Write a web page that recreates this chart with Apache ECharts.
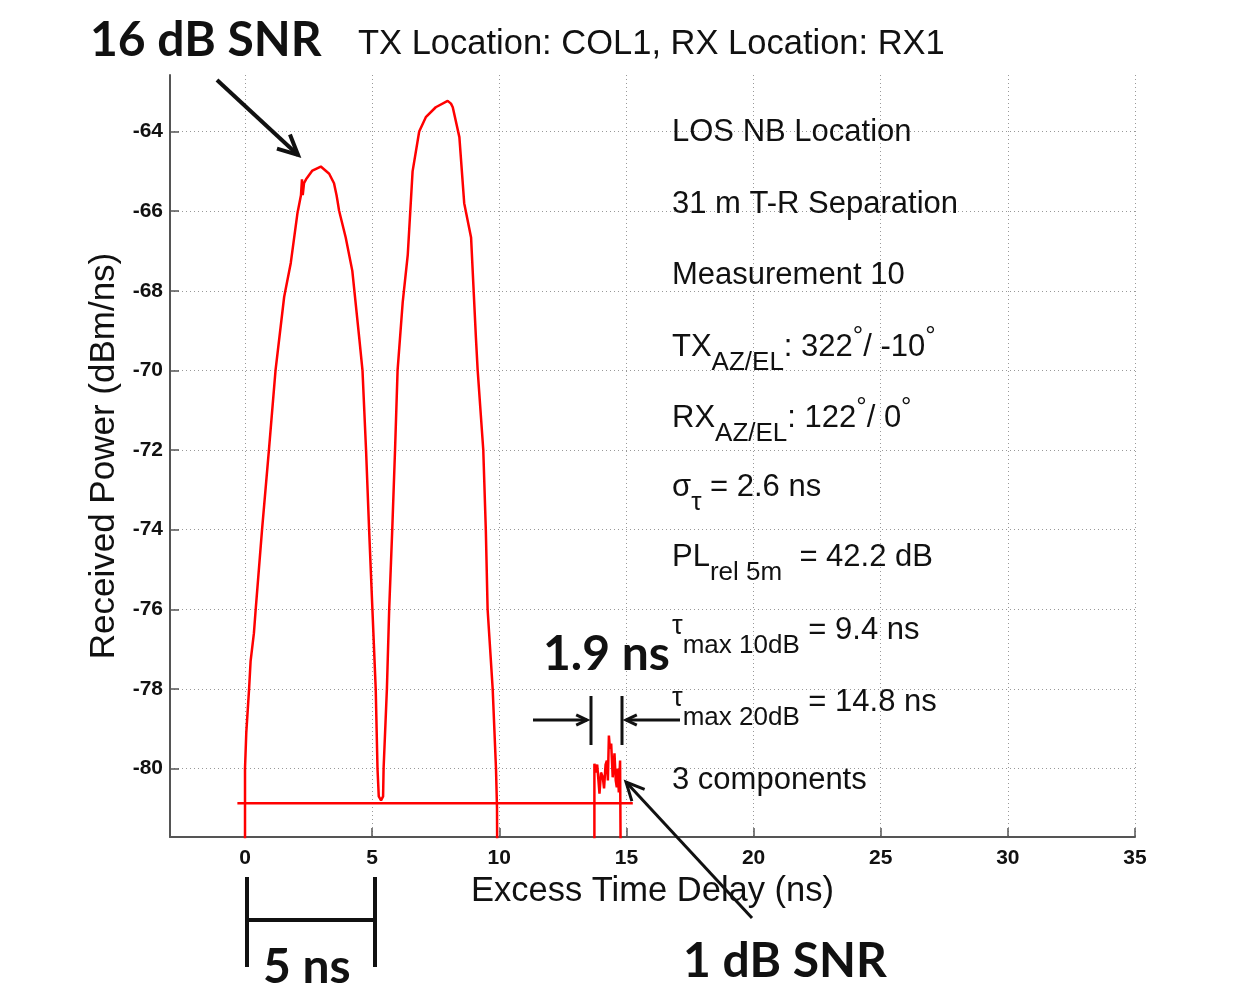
<!DOCTYPE html>
<html>
<head>
<meta charset="utf-8">
<script src="https://cdn.jsdelivr.net/npm/echarts@6/dist/echarts.min.js"></script>
<style>
html,body{margin:0;padding:0;background:#fff;}
#chart{width:1250px;height:989px;}
</style>
</head>
<body>
<div id="chart"></div>
<script>
// ---- data ----
const xTicks = [0, 5, 10, 15, 20, 25, 30, 35];
const yTicks = [-80, -78, -76, -74, -72, -70, -68, -66, -64];

// main power delay profile (two strong peaks), ns / dBm/ns
const delayMain = [0.0, 0.0, 0.05, 0.16, 0.22, 0.35, 0.42, 0.67, 0.94, 1.2, 1.54, 1.8, 2.06, 2.2, 2.24, 2.27, 2.32, 2.4, 2.65, 2.98, 3.31, 3.5, 3.6, 3.64, 3.7, 3.96, 4.22, 4.49, 4.62, 4.76, 4.88, 5.01, 5.14, 5.21, 5.26, 5.35, 5.43, 5.45, 5.58, 5.67, 5.79, 5.9, 6.0, 6.2, 6.4, 6.59, 6.85, 7.11, 7.5, 7.97, 8.1, 8.17, 8.43, 8.62, 8.89, 9.08, 9.15, 9.37, 9.47, 9.54, 9.74, 9.87, 9.91, 9.93];
const powerMain = [-84, -80, -79.1, -78, -77.3, -76.6, -76, -74, -72, -70, -68.15, -67.3, -66.06, -65.6, -65.2, -65.6, -65.3, -65.2, -64.98, -64.88, -65.06, -65.3, -65.6, -65.75, -65.99, -66.66, -67.5, -69.17, -70, -72, -74, -76, -78, -80, -80.7, -80.8, -80.7, -80, -78, -76, -74, -72, -70, -68.3, -67.1, -65, -64, -63.64, -63.39, -63.23, -63.3, -63.39, -64.14, -65.8, -66.66, -69.17, -70, -72, -74, -76, -78, -80, -81, -84];

// weak late cluster (1 dB SNR)
const delayBump = [13.74, 13.74, 13.8, 13.85, 13.94, 14.0, 14.07, 14.12, 14.18, 14.23, 14.27, 14.31, 14.35, 14.4, 14.46, 14.53, 14.58, 14.62, 14.66, 14.7, 14.75, 14.79, 14.79];
const powerBump = [-84, -79.88, -80.1, -79.9, -80.63, -80.1, -80.22, -80.5, -79.9, -79.8, -80.3, -79.17, -79.5, -79.37, -80.22, -79.62, -80.3, -80.47, -80, -80.6, -79.8, -79.8, -84];

// detection threshold line
const thresholdDelay = [-0.3, 15.25];
const thresholdPower = [-80.87, -80.87];

const zip = (a, b) => a.map((v, i) => [v, b[i]]);

const chart = echarts.init(document.getElementById('chart'), null, {renderer: 'canvas'});

const txtFont = 'Liberation Sans';
const boldFont = 'Lato';

function arrowHead(tip, from, len, spread) {
  const dx = from[0] - tip[0], dy = from[1] - tip[1];
  const d = Math.hypot(dx, dy), ux = dx / d, uy = dy / d;
  const c = Math.cos(spread), s = Math.sin(spread);
  const a = [tip[0] + len * (ux * c - uy * s), tip[1] + len * (ux * s + uy * c)];
  const b = [tip[0] + len * (ux * c + uy * s), tip[1] + len * (-ux * s + uy * c)];
  return [a, tip, b];
}
function arrow(from, tip, w, len) {
  return [
    {type: 'line', shape: {x1: from[0], y1: from[1], x2: tip[0], y2: tip[1]}, style: {stroke: '#111', lineWidth: w}, z: 100},
    {type: 'polyline', shape: {points: arrowHead(tip, from, len, 0.45)}, style: {stroke: '#111', lineWidth: w, fill: null}, z: 100}
  ];
}
function seg(x1, y1, x2, y2, w) {
  return {type: 'line', shape: {x1, y1, x2, y2}, style: {stroke: '#111', lineWidth: w}, z: 100};
}
const rich = {
  m: {fontSize: 31, fontFamily: txtFont, color: '#111'},
  sub: {fontSize: 26, fontFamily: txtFont, color: '#111', padding: [32, 0, 0, 0]},
  sup: {fontSize: 26, fontFamily: txtFont, color: '#111', padding: [0, 0, 20, 0]},
  tau: {fontSize: 27, fontFamily: txtFont, color: '#111', padding: [0, 0, 6, 0]}
};
function info(y, text) {
  return {type: 'text', x: 672, y: y, z: 100,
    style: {text: text, rich: rich, fontSize: 31, fontFamily: txtFont, fill: '#111', align: 'left', verticalAlign: 'middle'}};
}
function bold(x, y, text) {
  return {type: 'text', x: x, y: y, z: 100,
    style: {text: text, fontSize: 48, fontWeight: 'bold', fontFamily: boldFont, fill: '#111', align: 'left', verticalAlign: 'middle'}};
}

const graphics = [
  bold(90, 41, '16 dB SNR'),
  {type: 'text', x: 358, y: 44, z: 100, style: {text: 'TX Location: COL1, RX Location: RX1', fontSize: 34.5, fontFamily: txtFont, fill: '#111', align: 'left', verticalAlign: 'middle'}},
  info(132, '{m|LOS NB Location}'),
  info(204, '{m|31 m T-R Separation}'),
  info(275, '{m|Measurement 10}'),
  info(347, '{m|TX}{sub|AZ/EL}{m|: 322}{sup|°}{m|/ -10}{sup|°}'),
  info(418, '{m|RX}{sub|AZ/EL}{m|: 122}{sup|°}{m|/ 0}{sup|°}'),
  info(487, '{m|σ}{sub|τ}{m| = 2.6 ns}'),
  info(557, '{m|PL}{sub|rel 5m}{m|  = 42.2 dB}'),
  info(630, '{tau|τ}{sub|max 10dB}{m| = 9.4 ns}'),
  info(702, '{tau|τ}{sub|max 20dB}{m| = 14.8 ns}'),
  info(780, '{m|3 components}'),
  bold(543, 655, '1.9 ns'),
  bold(683, 962, '1 dB SNR'),
  bold(263, 968, '5 ns'),
  // 1.9 ns bracket
  seg(591, 696, 591, 745, 3),
  seg(622, 696, 622, 745, 3),
  ...arrow([533, 720], [587, 720], 3, 12),
  ...arrow([680, 720], [626, 720], 3, 12),
  // 5 ns bracket
  seg(247, 877, 247, 967, 4),
  seg(375, 877, 375, 967, 4),
  seg(247, 920, 375, 920, 4),
  // arrows
  ...arrow([217, 80], [298, 155], 4, 22),
  ...arrow([752, 918], [626, 782], 3, 20)
];

const option = {
  animation: false,
  backgroundColor: '#fff',
  grid: {left: 170, right: 115, top: 75, bottom: 152, containLabel: false},
  xAxis: {
    type: 'value', min: -2.95, max: 35,
    name: 'Excess Time Delay (ns)', nameLocation: 'middle', nameGap: 34,
    nameTextStyle: {fontSize: 34.5, fontFamily: txtFont, color: '#111'},
    axisLine: {show: true, onZero: false, lineStyle: {color: '#555', width: 2}},
    axisTick: {show: true, inside: true, length: 9, customValues: xTicks, lineStyle: {color: '#555', width: 1.5}},
    axisLabel: {show: true, customValues: xTicks, fontSize: 21, fontWeight: 'bold', fontFamily: txtFont, color: '#111', margin: 11},
    splitLine: {show: true, lineStyle: {type: [1, 3], color: '#999', width: 1}}
  },
  yAxis: {
    type: 'value', min: -81.72, max: -62.58,
    name: 'Received Power (dBm/ns)', nameLocation: 'middle', nameGap: 46, nameRotate: 90,
    nameTextStyle: {fontSize: 35, fontFamily: txtFont, color: '#111'},
    axisLine: {show: true, onZero: false, lineStyle: {color: '#555', width: 2}},
    axisTick: {show: true, inside: true, length: 9, customValues: yTicks, lineStyle: {color: '#555', width: 1.5}},
    axisLabel: {show: true, customValues: yTicks, fontSize: 21, fontWeight: 'bold', fontFamily: txtFont, color: '#111', margin: 7},
    splitLine: {show: true, lineStyle: {type: [1, 3], color: '#999', width: 1}}
  },
  series: [
    {type: 'line', name: 'PDP', data: zip(delayMain, powerMain), showSymbol: false, clip: true,
      lineStyle: {color: '#ff0000', width: 2.5}, z: 5},
    {type: 'line', name: 'Late cluster', data: zip(delayBump, powerBump), showSymbol: false, clip: true,
      lineStyle: {color: '#ff0000', width: 2.5}, z: 5},
    {type: 'line', name: 'Threshold', data: zip(thresholdDelay, thresholdPower), showSymbol: false, clip: true,
      lineStyle: {color: '#ff0000', width: 2.5}, z: 5}
  ],
  graphic: {elements: graphics}
};
chart.setOption(option);
</script>
</body>
</html>
